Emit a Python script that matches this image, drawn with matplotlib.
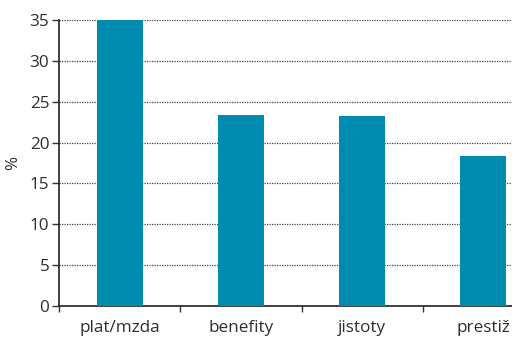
import matplotlib
matplotlib.use("Agg")
import matplotlib.pyplot as plt
import numpy as np

# Share of respondents (%) by main reason
categories = ["plat/mzda", "benefity", "jistoty", "prestiž"]
values = [35.0, 23.4, 23.25, 18.4]
yticks = [0, 5, 10, 15, 20, 25, 30, 35]

bar_color = "#008bb1"
text_color = "#2e2e2e"

plt.rcParams["font.family"] = ["Open Sans", "DejaVu Sans"]

fig = plt.figure(figsize=(5.12, 3.38), dpi=100)
# the plot area runs past the right edge of the figure
ax = fig.add_axes([59 / 512, 32 / 338, 485 / 512, 286 / 338])

x = np.arange(len(categories))
ax.bar(x, values, width=0.38, color=bar_color, zorder=3)

ax.set_xlim(-0.5, len(categories) - 0.5)
ax.set_ylim(0, 35)
ax.set_yticks(yticks)
ax.set_yticklabels([str(t) for t in yticks])

# category boundaries carry the tick marks, centres carry the labels
ax.set_xticks(np.arange(len(categories) + 1) - 0.5)
ax.set_xticklabels([])
ax.set_xticks(x, minor=True)
ax.set_xticklabels(categories, minor=True)
ax.tick_params(axis="x", which="minor", length=0, pad=10, labelsize=12.3, labelcolor=text_color)
ax.tick_params(axis="x", which="major", length=4.5, width=1, color="#333333", direction="out")
ax.tick_params(axis="y", length=5, width=1, color="#333333", pad=2, labelsize=12.3, labelcolor=text_color)

ax.grid(axis="y", color="#444444", linestyle=(0, (1, 1)), linewidth=0.9, zorder=1)
for side in ("top", "right"):
    ax.spines[side].set_visible(False)
for side in ("left", "bottom"):
    ax.spines[side].set_color("#222222")
    ax.spines[side].set_linewidth(1.2)

ax.set_ylabel("%", fontsize=12.3, color=text_color, labelpad=6)

fig.savefig("out.png", dpi=100)
